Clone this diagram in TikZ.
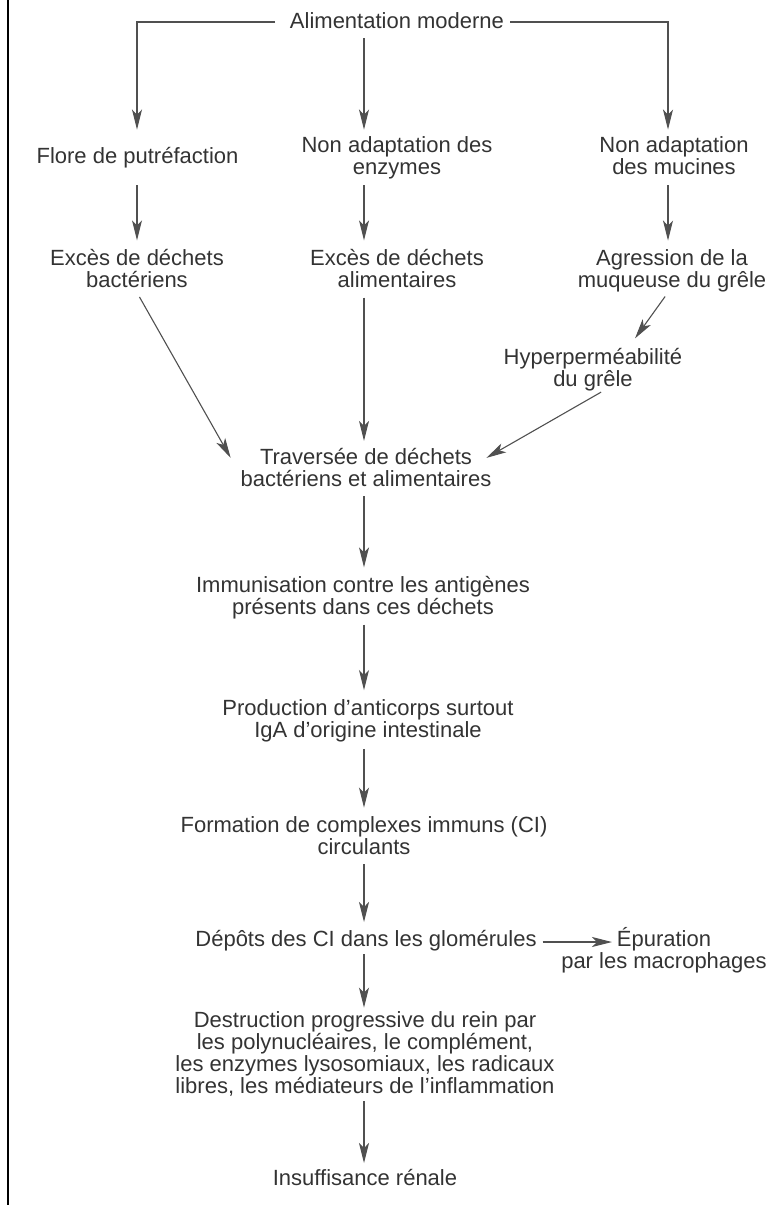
\documentclass[tikz,border=0pt]{standalone}
\usepackage{fontspec}
\setmainfont{Liberation Sans}
\usetikzlibrary{arrows.meta}
\definecolor{txtc}{HTML}{333333}
\definecolor{linec}{HTML}{505050}
\newcommand\mystrut{\rule[-5pt]{0pt}{22pt}}
\newcommand\mainsize{\fontsize{22pt}{22pt}\selectfont\lineskiplimit=-20pt}
\tikzset{
  txt/.style={align=center, inner sep=0pt, outer sep=0pt, text=txtc, font=\mainsize,
    execute at begin node=\mystrut, execute at end node=\mystrut},
  arr/.style={draw=linec, line width=1.1pt,
    -{Stealth[length=20pt,width=10pt,inset=5pt]},
    shorten <=6pt, shorten >=9pt},
}
\begin{document}
\begin{tikzpicture}[x=1pt,y=-1pt]
\useasboundingbox (0,0) rectangle (778,1205);
\draw[line width=2pt] (8,0) -- (8,1205);

\coordinate (cL) at (137,0);
\coordinate (cM) at (364,0);
\coordinate (cR) at (668,0);

\node[txt] (alim) at (397,22) {Alimentation moderne};
\node[txt] (flore) at (137.5,157) {Flore de putréfaction};
\node[txt] (enz) at (397,158) {Non adaptation des\\enzymes};
\node[txt] (muc) at (674,158) {Non adaptation\\des mucines};
\node[txt] (exb) at (137,271) {Excès de déchets\\bactériens};
\node[txt] (exa) at (397,271) {Excès de déchets\\alimentaires};
\node[txt] (agr) at (672,271) {Agression de la\\muqueuse du grêle};
\node[txt] (hyp) at (593,370) {Hyperperméabilité\\du grêle};
\node[txt] (trav) at (366,469.5) {Traversée de déchets\\bactériens et alimentaires};
\node[txt] (imm) at (363,598) {Immunisation contre les antigènes\\présents dans ces déchets};
\node[txt] (prod) at (368,721.5) {Production d’anticorps surtout\\IgA d’origine intestinale};
\node[txt] (form) at (364,838) {Formation de complexes immuns (CI)\\circulants};
\node[txt] (dep) at (366,940) {Dépôts des CI dans les glomérules};
\node[txt] (epu) at (664,950.5) {Épuration\\par les macrophages};
\node[txt] (dest) at (365,1055) {Destruction progressive du rein par\\les polynucléaires, le complément,\\les enzymes lysosomiaux, les radicaux\\libres, les médiateurs de l’inflammation};
\node[txt] (ins) at (365,1179) {Insuffisance rénale};

\coordinate (epuL) at ([xshift=-52pt]epu.center);

% top branches
\draw[arr, shorten <=15pt, shorten >=7pt] (alim.west) -| (enz.north -| cL);
\draw[arr, shorten <=5pt, shorten >=7pt] (alim.south -| cM) -- (enz.north -| cM);
\draw[arr, shorten <=6pt, shorten >=7pt] (alim.east) -| (enz.north -| cR);

% row 2 -> row 3
\draw[arr] (enz.south -| cL) -- (exb.north -| cL);
\draw[arr] (enz.south -| cM) -- (exa.north -| cM);
\draw[arr] (enz.south -| cR) -- (agr.north -| cR);

% row 3 -> traversee
\draw[arr, shorten <=5pt, shorten >=0pt] (exb.south) -- ([xshift=-10pt,yshift=-10pt]trav.north west);
\draw[arr, shorten <=5pt, shorten >=7pt] (exa.south -| cM) -- (trav.north -| cM);
\draw[arr, shorten <=5pt, shorten >=0pt] ([xshift=-4pt]agr.south) -- ([xshift=42pt,yshift=10pt]hyp.north);
\draw[arr, shorten <=1pt, shorten >=0pt] ([xshift=9pt]hyp.south) -- ([xshift=-5pt,yshift=-10pt]trav.north east);

% main column
\draw[arr, shorten <=5pt] (trav.south -| cM) -- (imm.north -| cM);
\draw[arr, shorten <=5pt, shorten >=10pt] (imm.south -| cM) -- (prod.north -| cM);
\draw[arr, shorten <=6pt, shorten >=9pt] (prod.south -| cM) -- (form.north -| cM);
\draw[arr, shorten <=5pt, shorten >=7pt] (form.south -| cM) -- (dep.north -| cM);
\draw[arr, shorten <=3pt, shorten >=4pt] (dep.south -| cM) -- (dest.north -| cM);
\draw[arr, shorten <=3pt, shorten >=5pt] (dest.south -| cM) -- (ins.north -| cM);

% side branch
\draw[arr, shorten <=6pt, shorten >=0pt] ([yshift=-2pt]dep.east) -- ([yshift=-2pt]epuL |- dep.east);
\end{tikzpicture}
\end{document}
